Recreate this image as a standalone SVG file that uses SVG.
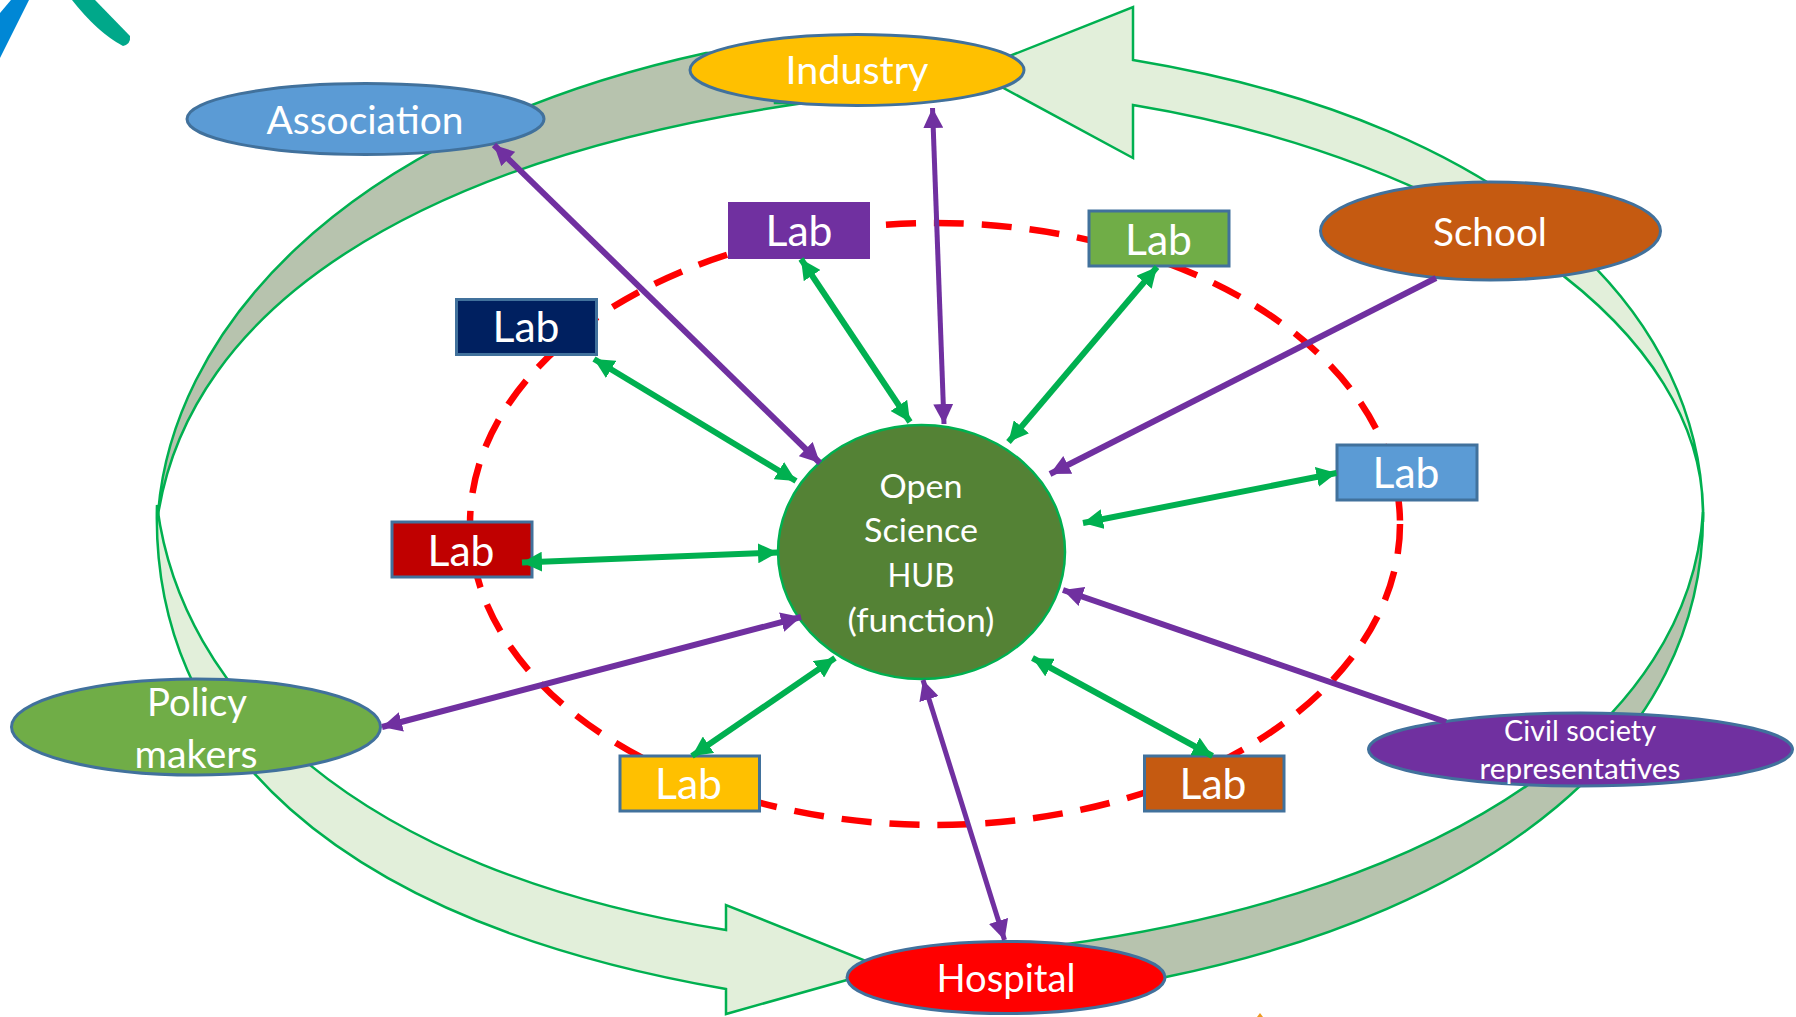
<svg xmlns="http://www.w3.org/2000/svg" width="1796" height="1017" viewBox="0 0 1796 1017">
<style>
text{font-family:"Lato","Open Sans","Liberation Sans",sans-serif;fill:#fff;text-anchor:middle}
.e{stroke:#41719C;stroke-width:3}
.b{stroke:#00B050;stroke-width:2.5;stroke-linejoin:miter}
.lt{fill:#E2EFDA}.gr{fill:#B7C3AE}
.r{stroke:#41719C;stroke-width:3}
.lab{font-size:43px}
.g{stroke:#00B050;stroke-width:6;fill:none;marker-start:url(#gh);marker-end:url(#gh)}
.p{stroke:#7030A0;fill:none}
.pd{marker-start:url(#ph);marker-end:url(#ph)}
.ps{marker-end:url(#ph)}
</style>
<defs>
<marker id="gh" viewBox="0 0 10 10" refX="10" refY="5" markerWidth="20" markerHeight="20" markerUnits="userSpaceOnUse" orient="auto-start-reverse"><path d="M0 0L10 5L0 10Z" fill="#00B050"/></marker>
<marker id="ph" viewBox="0 0 10 10" refX="10" refY="5" markerWidth="20" markerHeight="20" markerUnits="userSpaceOnUse" orient="auto-start-reverse"><path d="M0 0L10 5L0 10Z" fill="#7030A0"/></marker>
</defs>
<g id="logo">
<path d="M11 0H29L0 58V13Z" fill="#0087D5"/>
<path d="M72 0H95L130 36Q131 44 123 46Q98 33 72 0Z" fill="#00A88A"/>
</g>
<g id="cycle-arrows">
<path class="b gr" d="M158 515C170 340 330 135 706 53L775 50V103L804 103C410 160 190 310 158 515Z"/>
<path class="b gr" d="M1703 512C1705 745 1490 910 1166 977L1060 945C1460 890 1690 720 1703 512Z"/>
<path class="b lt" d="M1703 522C1705 320 1525 125 1133 60V7L972 71L1133 158V105C1465 160 1710 330 1703 522Z"/>
<path class="b lt" d="M157 505C150 740 330 920 726 989V1014L886 969L726 905V930C350 870 180 690 157 505Z"/>
</g>
<ellipse id="lab-ring" cx="935" cy="524" rx="465" ry="301" fill="none" stroke="#FF0000" stroke-width="6.5" stroke-dasharray="30 18"/>
<g id="lab-purple"><rect x="728" y="202" width="142" height="57" fill="#7030A0"/><text class="lab" x="799" y="246" textLength="67" lengthAdjust="spacingAndGlyphs">Lab</text></g>
<g id="lab-navy"><rect class="r" x="456.5" y="299.5" width="140" height="55" fill="#002060"/><text class="lab" x="526" y="342" textLength="67" lengthAdjust="spacingAndGlyphs">Lab</text></g>
<g id="lab-green"><rect class="r" x="1089" y="211" width="140" height="55" fill="#70AD47"/><text class="lab" x="1158.5" y="255" textLength="67" lengthAdjust="spacingAndGlyphs">Lab</text></g>
<g id="lab-blue"><rect class="r" x="1337" y="445" width="140" height="55" fill="#5B9BD5"/><text class="lab" x="1406" y="488" textLength="67" lengthAdjust="spacingAndGlyphs">Lab</text></g>
<g id="lab-red"><rect class="r" x="392" y="522" width="140" height="55" fill="#C00000"/><text class="lab" x="461" y="566" textLength="67" lengthAdjust="spacingAndGlyphs">Lab</text></g>
<g id="lab-yellow"><rect class="r" x="620" y="756" width="139.5" height="55" fill="#FFC000"/><text class="lab" x="688.5" y="799" textLength="67" lengthAdjust="spacingAndGlyphs">Lab</text></g>
<g id="lab-orange"><rect class="r" x="1144.5" y="756" width="139.5" height="55" fill="#C55A11"/><text class="lab" x="1213" y="799" textLength="67" lengthAdjust="spacingAndGlyphs">Lab</text></g>
<g id="association"><ellipse class="e" cx="365.5" cy="119" rx="178.5" ry="35.5" fill="#5B9BD5"/><text x="365" y="134" font-size="39" textLength="197" lengthAdjust="spacingAndGlyphs">Association</text></g>
<g id="industry"><ellipse class="e" cx="857" cy="70" rx="167" ry="35.5" fill="#FFC000"/><text x="857" y="84" font-size="39" textLength="143" lengthAdjust="spacingAndGlyphs">Industry</text></g>
<g id="school"><ellipse class="e" cx="1490.5" cy="231" rx="170" ry="49" fill="#C55A11"/><text x="1490" y="246" font-size="39" textLength="114" lengthAdjust="spacingAndGlyphs">School</text></g>
<g id="policy-makers"><ellipse class="e" cx="196" cy="727" rx="184.5" ry="48" fill="#70AD47"/><text x="197" y="716" font-size="39" textLength="100" lengthAdjust="spacingAndGlyphs">Policy</text><text x="196" y="768" font-size="39" textLength="123" lengthAdjust="spacingAndGlyphs">makers</text></g>
<g id="civil-society"><ellipse class="e" cx="1580.5" cy="749.5" rx="212" ry="36.5" fill="#7030A0"/><text x="1580" y="741" font-size="28" textLength="152" lengthAdjust="spacingAndGlyphs">Civil society</text><text x="1580" y="779" font-size="28" textLength="201" lengthAdjust="spacingAndGlyphs">representatives</text></g>
<g id="hospital"><ellipse class="e" cx="1006" cy="977.5" rx="159" ry="36" fill="#FF0000"/><text x="1006" y="992" font-size="39" textLength="139" lengthAdjust="spacingAndGlyphs">Hospital</text></g>
<g id="hub"><ellipse cx="921.5" cy="552" rx="143.5" ry="127" fill="#548235" stroke="#00B050" stroke-width="2.5"/>
<text x="921" y="498" font-size="33" textLength="83" lengthAdjust="spacingAndGlyphs">Open</text>
<text x="921" y="542" font-size="33" textLength="114" lengthAdjust="spacingAndGlyphs">Science</text>
<text x="921" y="587" font-size="33" textLength="67" lengthAdjust="spacingAndGlyphs">HUB</text>
<text x="921" y="632" font-size="33" textLength="147" lengthAdjust="spacingAndGlyphs">(function)</text></g>
<g id="connectors">
<line class="g" x1="594" y1="359" x2="796" y2="481"/>
<line class="g" x1="801" y1="259" x2="910" y2="422"/>
<line class="g" x1="1157" y1="267" x2="1008.5" y2="442"/>
<line class="g" x1="1336.5" y1="473" x2="1083" y2="523"/>
<line class="g" x1="522" y1="562.5" x2="778" y2="552.5"/>
<line class="g" x1="692" y1="756" x2="835" y2="658"/>
<line class="g" x1="1212.5" y1="756" x2="1032.5" y2="658"/>
<line class="p pd" stroke-width="6" x1="494" y1="145" x2="820" y2="463"/>
<line class="p pd" stroke-width="5" x1="932.5" y1="108" x2="944" y2="424"/>
<line class="p ps" stroke-width="6" x1="1436" y1="278" x2="1050" y2="474"/>
<line class="p pd" stroke-width="6" x1="382" y1="727" x2="801" y2="617"/>
<line class="p ps" stroke-width="6" x1="1446" y1="722" x2="1063" y2="590"/>
<line class="p pd" stroke-width="5" x1="923" y1="680" x2="1004.5" y2="940"/>
</g>
<path id="speck" d="M1260 1013L1263 1017H1257Z" fill="#ED9B22"/>
</svg>
